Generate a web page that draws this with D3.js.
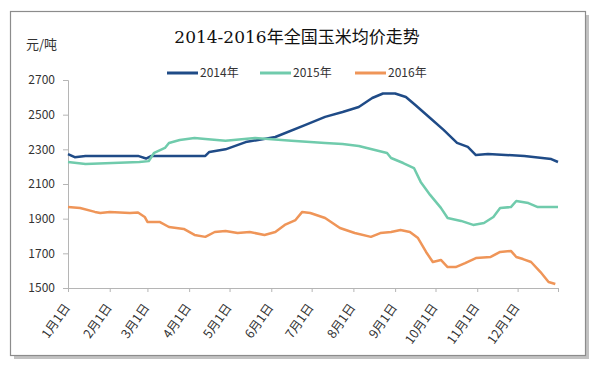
<!DOCTYPE html>
<html>
<head>
<meta charset="utf-8">
<script src="https://cdn.jsdelivr.net/npm/d3@7"></script>
<style>
  body { margin: 0; background: #fff; }
  svg { display: block; }
  text { font-family: "Noto Sans CJK SC", "Liberation Sans", sans-serif; fill: #333; }
</style>
</head>
<body>
<div id="chart"></div>
<script>
const W = 603, H = 371;
const margin = { top: 80, right: 45, bottom: 83, left: 68 };
const width = 558 - margin.left;
const height = 288 - margin.top;

const seriesNames = ["2014年", "2015年", "2016年"];
const colors = ["#1F4B87", "#70CBAC", "#EF9558"];
const yTicks = [1500, 1700, 1900, 2100, 2300, 2500, 2700];
const monthLabels = ["1月1日", "2月1日", "3月1日", "4月1日", "5月1日", "6月1日",
                     "7月1日", "8月1日", "9月1日", "10月1日", "11月1日", "12月1日"];

// [month-day, price]
const prices2014 = [
  ["01-01", 2273], ["01-06", 2255], ["01-14", 2262], ["02-22", 2262], ["02-28", 2247],
  ["03-04", 2262], ["04-13", 2262], ["04-16", 2285], ["04-28", 2300], ["05-13", 2342],
  ["06-04", 2371], ["06-26", 2440], ["07-11", 2487], ["07-24", 2515], ["08-05", 2544],
  ["08-15", 2596], ["08-23", 2622], ["09-01", 2622], ["09-09", 2602], ["09-16", 2556],
  ["09-27", 2481], ["10-07", 2412], ["10-17", 2337], ["10-25", 2314], ["10-31", 2267],
  ["11-09", 2273], ["12-06", 2262], ["12-26", 2244], ["12-31", 2227]
];
const prices2015 = [
  ["01-01", 2227], ["01-14", 2215], ["02-23", 2227], ["03-02", 2232], ["03-06", 2280],
  ["03-14", 2308], ["03-17", 2337], ["03-25", 2354], ["04-05", 2365], ["04-13", 2360],
  ["04-28", 2350], ["05-20", 2365], ["06-16", 2350], ["07-11", 2337], ["07-24", 2331],
  ["08-05", 2319], ["08-17", 2296], ["08-26", 2279], ["08-29", 2250], ["09-07", 2221],
  ["09-15", 2192], ["09-20", 2112], ["09-27", 2037], ["10-05", 1962], ["10-10", 1904],
  ["10-20", 1887], ["10-29", 1864], ["11-06", 1875], ["11-13", 1910], ["11-18", 1962],
  ["11-26", 1967], ["11-30", 2002], ["12-09", 1990], ["12-16", 1967], ["12-31", 1967]
];
const prices2016 = [
  ["01-01", 1967], ["01-10", 1962], ["01-21", 1939], ["01-25", 1933], ["02-01", 1939],
  ["02-16", 1933], ["02-22", 1936], ["02-27", 1910], ["03-01", 1881], ["03-10", 1881],
  ["03-17", 1852], ["03-28", 1841], ["04-05", 1806], ["04-13", 1795], ["04-20", 1823],
  ["04-28", 1829], ["05-07", 1817], ["05-16", 1823], ["05-27", 1806], ["06-04", 1823],
  ["06-11", 1864], ["06-19", 1892], ["06-24", 1939], ["06-30", 1933], ["07-11", 1904],
  ["07-22", 1846], ["08-02", 1817], ["08-14", 1795], ["08-21", 1817], ["08-29", 1823],
  ["09-05", 1835], ["09-12", 1823], ["09-18", 1788], ["09-24", 1708], ["09-29", 1650],
  ["10-05", 1662], ["10-10", 1621], ["10-16", 1621], ["10-23", 1644], ["10-31", 1673],
  ["11-11", 1679], ["11-18", 1708], ["11-26", 1714], ["11-30", 1679], ["12-05", 1667],
  ["12-11", 1650], ["12-18", 1592], ["12-24", 1535], ["12-29", 1523]
];
const allSeries = [prices2014, prices2015, prices2016];

const parseDay = d3.timeParse("%Y-%m-%d");
const toDate = md => parseDay("2015-" + md);

const svg = d3.select("#chart").append("svg")
    .attr("width", W)
    .attr("height", H);

// frame with shadow
svg.append("rect")
    .attr("x", 14).attr("y", 15)
    .attr("width", 575).attr("height", 344)
    .attr("fill", "#9a9a9a")
    .attr("opacity", 0.6);
svg.append("rect")
    .attr("x", 10.5).attr("y", 11.5)
    .attr("width", 575).attr("height", 344)
    .attr("fill", "#fff")
    .attr("stroke", "#8c8c8c")
    .attr("stroke-width", 1.2);

const g = svg.append("g")
    .attr("transform", `translate(${margin.left},${margin.top})`);

const x = d3.scaleTime()
    .domain([toDate("01-01"), toDate("12-31")])
    .range([0, width]);

const y = d3.scaleLinear()
    .domain([1500, 2700])
    .range([height, 0]);

// y axis
const yAxis = g.append("g")
    .call(d3.axisLeft(y).tickValues(yTicks).tickSize(5).tickPadding(8).tickFormat(d3.format("d")));
yAxis.select(".domain").attr("stroke", "#b5b5b5");
yAxis.selectAll(".tick line").attr("stroke", "#b5b5b5");
yAxis.selectAll("text").style("font-size", "12px").style("fill", "#333");

// x axis
const monthTicks = d3.timeMonth.range(toDate("01-01"), toDate("12-02"));
const xAxis = g.append("g")
    .attr("transform", `translate(0,${height})`)
    .call(d3.axisBottom(x).tickValues(monthTicks.concat([toDate("12-31")])).tickSize(4).tickFormat(""));
xAxis.select(".domain").attr("stroke", "#b5b5b5");
xAxis.selectAll(".tick line").attr("stroke", "#b5b5b5");

g.selectAll(".month-label")
    .data(monthTicks)
    .enter()
    .append("text")
    .attr("class", "month-label")
    .attr("text-anchor", "end")
    .attr("transform", (d) => `translate(${x(d) - 1},${height + 17}) rotate(-55)`)
    .attr("dy", "0.35em")
    .style("font-size", "12.5px")
    .text((d, i) => monthLabels[i]);

// lines
const line = d3.line()
    .x(d => x(toDate(d[0])))
    .y(d => y(d[1]));

allSeries.forEach((s, i) => {
    g.append("path")
        .datum(s)
        .attr("fill", "none")
        .attr("stroke", colors[i])
        .attr("stroke-width", 2.5)
        .attr("stroke-linejoin", "round")
        .attr("d", line);
});

// title and unit
svg.append("text")
    .attr("x", 297)
    .attr("y", 43)
    .attr("text-anchor", "middle")
    .style("font-size", "17px")
    .style("font-family", "'DejaVu Serif', 'Noto Sans CJK SC', serif")
    .style("fill", "#111")
    .text("2014-2016年全国玉米均价走势");

svg.append("text")
    .attr("x", 26)
    .attr("y", 49)
    .style("font-size", "13px")
    .text("元/吨");

// legend
const legendX = [167, 260, 355];
const legend = svg.selectAll(".legend")
    .data(seriesNames)
    .enter()
    .append("g")
    .attr("class", "legend")
    .attr("transform", (d, i) => `translate(${legendX[i]},73)`);

legend.append("line")
    .attr("x1", 0).attr("x2", 31)
    .attr("stroke", (d, i) => colors[i])
    .attr("stroke-width", 3);

legend.append("text")
    .attr("x", 33)
    .attr("dy", "0.35em")
    .style("font-size", "12px")
    .text(d => d);
</script>
</body>
</html>
